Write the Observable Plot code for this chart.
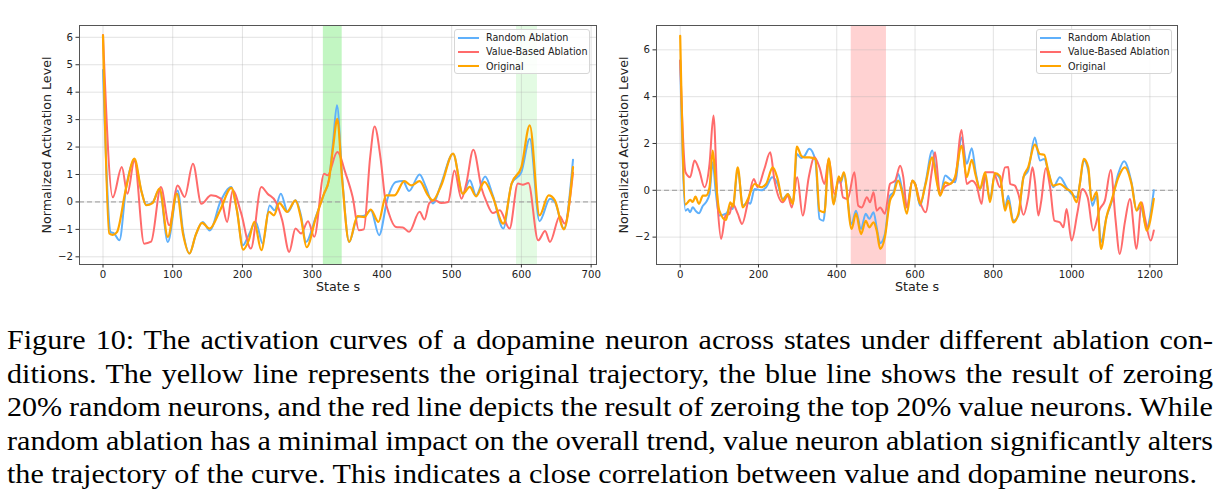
<!DOCTYPE html>
<html>
<head>
<meta charset="utf-8">
<script src="https://cdn.jsdelivr.net/npm/d3@7"></script>
<script src="https://cdn.jsdelivr.net/npm/@observablehq/plot@0.6"></script>
<style>
  html, body { margin: 0; padding: 0; background: #fff; }
  #page { position: relative; width: 1223px; height: 500px; overflow: hidden; }
  .panel { position: absolute; top: 0; }
  .legend {
    position: absolute; box-sizing: border-box; background: rgba(255,255,255,0.85);
    border: 1px solid #d6d6d6; border-radius: 3px;
    font-family: "DejaVu Sans", sans-serif; font-size: 9.6px; color: #222;
  }
  .legend .row { position: absolute; left: 0; height: 14px; display: flex; align-items: center; }
  .legend .swatch { width: 21px; height: 2px; margin-left: 3px; margin-right: 7px; }
  .caption {
    position: absolute; left: 7px; transform-origin: 0 0;
    font-family: "Liberation Serif", "Times New Roman", serif; font-size: 26.5px; color: #000;
  }
  .caption .line { height: 33.5px; line-height: 33.5px; white-space: nowrap; }
</style>
</head>
<body>
<div id="page"></div>
<script>
// Series order, display names and colours
const seriesNames = ["Random Ablation", "Value-Based Ablation", "Original"];
const seriesColors = ["#5fb0fb", "#ff6b6b", "#ffa500"];
const seriesWidths = [2, 2, 2.2];

// Left panel: [state, normalized activation]
const leftRandom = [
  [0, 4.81], [11, -1.1], [16, -1.15], [23.5, -1.4], [33, 0.5], [45, 1.5], [55, 0.4], [62, -0.1],
  [71, -0.02], [81, 0.45], [93, -1.46], [107, 0.42], [115, -1.1], [124, -1.88], [133, -1.2],
  [143, -0.73], [153, -1.04], [169, 0.05], [184, 0.54], [192, -0.3], [200.5, -1.58], [209, -1.2],
  [219, -0.73], [229, -1.52], [239, -0.13], [246, -0.3], [255, 0.3], [265, -0.37], [276, 0.06],
  [284, -0.5], [291, -1.46], [305, -0.55], [317, 0.3], [324, 0.8], [330, 2.2], [335.5, 3.52],
  [343, 0.9], [353, -1.46], [365, -0.55], [375, -0.5], [384, -0.3], [396, -1.21], [408, 0.12],
  [420, 0.73], [430, 0.76], [439, 0.4], [454, 1.0], [463, 0.55], [473, -0.06], [485, 0.67],
  [502, 1.76], [516, 0.3], [526, 0.79], [535, 0.24], [548, 0.93], [559, 0.24], [574, -0.97],
  [586, 0.67], [600, 1.09], [612, 2.3], [626, -0.7], [641, 0.12], [648, 0.0], [661, -0.97], [674, 1.54]
];
const leftValueBased = [
  [0, 6.08], [14, 0.17], [27, 1.27], [35, 0.3], [45, 1.5], [59, -1.52], [69, -1.45], [83, 0.54],
  [95, -0.85], [107, 0.6], [117, 0.18], [129, 1.39], [141, -0.07], [155, 0.24], [169, 0.12],
  [178, -0.73], [186, 0.42], [198, -0.4], [212, -1.7], [227, 0.54], [236, 0.3], [248, 0.0],
  [257, -0.67], [267, -1.82], [276, -0.97], [284, -1.15], [294, -0.7], [303, -1.27], [317, 1.03],
  [322, 0.97], [336, 1.82], [348, 1.03], [358, 0.18], [367, -1.03], [374, -1.0], [383, 1.6],
  [389.5, 2.75], [398, 1.6], [405, 0.05], [410, -0.42], [420, -0.91], [430, -0.93], [439, -1.09],
  [454, -0.36], [461, -0.64], [468, -0.04], [476, 0.06], [485, -0.04], [495, 0], [504, 1.15],
  [514, 0.12], [521, 0.67], [531, 1.9], [543, 0.49], [550, 0], [559, -0.4], [569, -0.3],
  [583, -0.97], [595, 0.67], [602, 0.63], [610, 0.69], [624, -1.4], [634, -1.06], [641, -1.46],
  [655, -0.52], [662, -0.79], [674, 1.06]
];
const leftOriginal = [
  [0, 6.07], [9, -1.15], [14, -1.2], [20, -1.1], [33, 0.5], [45, 1.58], [55, 0.4], [62, -0.12],
  [71, -0.04], [81, 0.49], [93, -1.27], [106, 0.3], [115, -1.2], [124, -1.88], [133, -1.2],
  [142, -0.76], [153, -0.97], [168, -0.3], [184, 0.51], [192, -0.3], [201, -1.74], [209, -1.4],
  [217, -0.73], [227, -1.76], [238, -0.36], [245, -0.49], [253, -0.04], [264, -0.36], [276, 0.06],
  [284, -0.6], [292, -1.65], [305, -0.6], [317, 0.3], [324, 0.8], [330, 2.0], [336, 3.03],
  [343, 0.8], [353, -1.46], [365, -0.52], [375, -0.55], [384, -0.28], [395, -0.73], [406, 0.24],
  [418, 0.24], [432, 0.76], [442, 0.6], [454, 0.76], [466, 0.24], [473, 0.06], [485, 0.6],
  [502, 1.76], [516, 0.3], [526, 0.55], [535, 0.2], [547, 0.73], [559, 0.18], [574, -0.79],
  [586, 0.67], [600, 1.27], [612, 2.79], [626, -0.49], [639, 0.24], [648, 0.06], [661, -1.0], [674, 1.27]
];

// Right panel: [state, normalized activation]
const rightRandom = [
  [0, 5.54], [13.6, -0.87], [19.6, -0.8], [25.5, -0.94], [32, -0.72], [39, -0.87], [48, -0.98],
  [58, -0.66], [66, -0.51], [75, -0.16], [83, 1.2], [91, -0.1], [100, -1.08], [117, -1.0],
  [128, -0.73], [134.5, -0.8], [147, 0.91], [160, -0.66], [173, -0.51], [179, -0.58], [190, 0.06],
  [207, 0.0], [219.5, 0.13], [235, 0.56], [249, 0.27], [262, -0.37], [275, -0.16], [288, -0.55],
  [298, 1.55], [309, 1.38], [317, 1.45], [330, 1.77], [345.5, 1.27], [356, -1.22], [366, -1.3],
  [379.5, 1.27], [392, -0.58], [405, 0.5], [410, 0.3], [418, 0.7], [438, -1.44], [449, -0.87],
  [462, -1.65], [474, -1.0], [483, -1.22], [494, -0.94], [502, -1.58], [511, -2.26], [523, -1.87],
  [536, -0.23], [545, -0.08], [557, 0.7], [566, 0.13], [579, -0.73], [593, 0.41], [600, 0.3],
  [613, -0.66], [627, 0.34], [644, 1.7], [655, 0.56], [664, -0.23], [677, 0.63], [689, 0.48],
  [702, 0.34], [719, 2.26], [732, 1.13], [745, 1.8], [755, 0.77], [766, 0.06], [779, 0.56],
  [791.5, -0.37], [804, 0.7], [817, 0.5], [830, -0.73], [838, -0.23], [851, -1.3], [864, -1.08],
  [877, 0.56], [889, 0.84], [906, 2.26], [919, 1.27], [930, 1.34], [940, 0.84], [953, 0.13],
  [970, 0.56], [987, 0.13], [1000, -0.16], [1013, -0.3], [1021, 0.27], [1031, 1.27], [1042.5, 0.84],
  [1053, -0.66], [1064, -0.23], [1075, -2.22], [1089, -1.15], [1102, -0.51], [1119, 0.7],
  [1134, 1.24], [1153, 0.34], [1166, -0.84], [1177, -0.73], [1191.5, -1.58], [1210, 0.0]
];
const rightValueBased = [
  [0, 5.54], [13.6, 0.77], [25.5, 0.56], [36.6, 1.27], [49, 0.84], [62, 0.13], [75, 1.13],
  [85, 3.19], [96, -0.73], [104.6, -2.08], [116, -1.08], [126, -1.0], [134, -0.58], [147, -1.0],
  [158, -1.44], [173, -0.51], [188, 0.48], [198, 0.13], [215, 0.91], [230, 1.62], [241, 0.41],
  [262, -0.51], [275, -0.23], [285, -0.73], [299, 0.56], [313, -1.08], [328.5, 0.56], [343, 1.41],
  [356, 0.98], [368.5, 0.27], [379.5, 1.34], [394, -0.16], [407, 0.56], [416, -0.3], [428, -0.37],
  [445, 0.77], [455, -0.66], [464, -0.73], [477, -0.3], [485, -0.51], [494, -0.08], [502, -0.87],
  [511, -0.73], [523, -1.0], [536, 0.27], [549, 0.41], [562, 1.05], [570, 0.56], [579, -0.73],
  [593, 0.41], [600, 0.27], [613, -0.51], [627, -0.94], [642.5, 0.77], [651, 1.62], [664, -0.16],
  [675, 0.13], [689, 0.27], [702, 0.48], [719, 2.58], [732, 0.27], [745, 0.41], [757, 0.2],
  [770, -0.58], [780, 0.77], [800, 0.77], [817, 0.13], [830, 0.98], [838, 1.0], [843, 0.27],
  [855, 0.2], [864, -0.16], [877, -1.05], [889, -0.3], [900, 0.98], [906, 0.41], [915, -1.08],
  [922, -0.5], [934, 0.94], [945, 0.13], [956, -1.3], [970, -1.37], [979, -1.58], [987, -0.8],
  [1000, -2.15], [1015, -0.94], [1027, 0.06], [1041, -0.3], [1055, -1.72], [1072, -0.8],
  [1085, -0.44], [1100, 0.87], [1112, -1.22], [1123, -2.72], [1136, -1.37], [1149, -0.37],
  [1166, -2.5], [1179, -0.51], [1187, -1.15], [1202, -2.15], [1210, -1.72]
];
const rightOriginal = [
  [0, 6.6], [13.6, -0.61], [19.6, -0.51], [25.5, -0.41], [32, -0.5], [39, -0.27], [48, -0.58],
  [58, -0.23], [66, -0.23], [75, 0.13], [83, 1.7], [90, 0.56], [100, -0.87], [117, -1.27],
  [128, -0.51], [134.5, -0.7], [147, 0.98], [160, -0.73], [173, -0.37], [190, 0.27], [207, 0.13],
  [219.5, 0.27], [236.6, 0.98], [249, 0.48], [262, -0.44], [275, -0.16], [288, -0.58], [298, 1.87],
  [309, 1.48], [317, 1.41], [330, 1.41], [345.5, 1.34], [356, -0.87], [368.5, -0.94], [379.5, 1.37],
  [392, -0.6], [405, 0.6], [410, 0.4], [418, 0.77], [438, -1.65], [449, -1.0], [462, -1.87],
  [474, -1.3], [483, -1.58], [494, -1.37], [502, -1.72], [511, -2.5], [523, -2.0], [536, -0.44],
  [545, -0.16], [557, 0.41], [566, 0], [579, -1.0], [593, 0.41], [600, 0.27], [613, -0.58],
  [627, 0.27], [644, 1.41], [655, 0.41], [664, -0.23], [677, 0.34], [689, 0.27], [702, 0.56],
  [719, 1.9], [732, 0.56], [745, 1.3], [755, 0.63], [766, 0.06], [779, 0.77], [791.5, -0.51],
  [804, 0.73], [817, 0.6], [830, -0.87], [838, -0.44], [851, -1.37], [864, -1.0], [877, 0.56],
  [889, 0.98], [906, 1.95], [919, 1.55], [930, 1.52], [940, 0.84], [953, 0.2], [970, 0.27],
  [987, 0.06], [1000, -0.08], [1013, -0.51], [1021, 0.27], [1031, 1.34], [1042.5, 0.98],
  [1051, -0.44], [1064, -0.08], [1075, -2.5], [1089, -1.15], [1102, -0.44], [1119, 0.53],
  [1136, 0.98], [1153, 0.27], [1166, -0.87], [1177, -0.51], [1191.5, -1.72], [1210, -0.37]
];

// Highlighted state ranges
const leftBands = [
  {x1: 316, x2: 343, fill: "#90ee90", opacity: 0.55},
  {x1: 593, x2: 623, fill: "#90ee90", opacity: 0.25}
];
const rightBands = [
  {x1: 437, x2: 527, fill: "#ff6b6b", opacity: 0.3}
];

// Axis ticks
const leftXTicks = [0, 100, 200, 300, 400, 500, 600, 700];
const leftYTicks = [-2, -1, 0, 1, 2, 3, 4, 5, 6];
const rightXTicks = [0, 200, 400, 600, 800, 1000, 1200];
const rightYTicks = [-2, 0, 2, 4, 6];

const xLabel = "State s";
const yLabel = "Normalized Activation Level";

const captionLines = [
  "Figure 10: The activation curves of a dopamine neuron across states under different ablation con-",
  "ditions. The yellow line represents the original trajectory, the blue line shows the result of zeroing",
  "20% random neurons, and the red line depicts the result of zeroing the top 20% value neurons. While",
  "random ablation has a minimal impact on the overall trend, value neuron ablation significantly alters",
  "the trajectory of the curve. This indicates a close correlation between value and dopamine neurons."
];

function toRows(series) {
  return series.flatMap((pts, i) => pts.map(([s, v]) => ({state: s, level: v, series: seriesNames[i]})));
}

const tickFmt = d => String(d).replace("-", "\u2212");

function panel({series, bands, xDomain, yDomain, xTicks, yTicks, width, marginLeft, marginRight, yLabelDx}) {
  const rows = toRows(series);
  return Plot.plot({
    width, height: 300,
    marginTop: 25, marginBottom: 36, marginLeft, marginRight,
    style: {fontFamily: "DejaVu Sans, sans-serif", fontSize: "10.2px", color: "#222", background: "white"},
    x: {domain: xDomain},
    y: {domain: yDomain},
    marks: [
      Plot.rect(bands, {x1: "x1", x2: "x2", fill: "fill", fillOpacity: "opacity"}),
      Plot.gridX(xTicks, {stroke: "#b0b0b0", strokeOpacity: 0.35}),
      Plot.gridY(yTicks, {stroke: "#b0b0b0", strokeOpacity: 0.35}),
      Plot.ruleY([0], {stroke: "#999", strokeDasharray: "5,3", strokeWidth: 1}),
      ...seriesNames.map((name, i) => Plot.line(rows.filter(d => d.series === name), {
        x: "state", y: "level", stroke: seriesColors[i], strokeWidth: seriesWidths[i], curve: "monotone-x"
      })),
      Plot.frame({stroke: "#555", strokeWidth: 1}),
      Plot.axisX(xTicks, {tickSize: 3.5, tickPadding: 3, label: null, stroke: "#333", tickFormat: tickFmt}),
      Plot.axisY(yTicks, {tickSize: 3.5, tickPadding: 3, label: null, stroke: "#333", tickFormat: tickFmt}),
      Plot.text([xLabel], {frameAnchor: "bottom", dy: 26, fontSize: 12.7, fill: "#222"}),
      Plot.text([yLabel], {frameAnchor: "left", dx: yLabelDx, rotate: -90, textAnchor: "middle", fontSize: 12.7, fill: "#222"})
    ]
  });
}

const page = document.getElementById("page");

function place(el, left) {
  const wrap = document.createElement("div");
  wrap.className = "panel";
  wrap.style.left = left + "px";
  wrap.appendChild(el);
  page.appendChild(wrap);
}

place(panel({
  series: [leftRandom, leftValueBased, leftOriginal], bands: leftBands,
  xDomain: [-33.7, 707.7], yDomain: [-2.28, 6.43], xTicks: leftXTicks, yTicks: leftYTicks,
  width: 611, marginLeft: 79, marginRight: 15, yLabelDx: -33
}), 0);

place(panel({
  series: [rightRandom, rightValueBased, rightOriginal], bands: rightBands,
  xDomain: [-60.5, 1270.5], yDomain: [-3.17, 7.04], xTicks: rightXTicks, yTicks: rightYTicks,
  width: 612, marginLeft: 45, marginRight: 46, yLabelDx: -33
}), 611);

function legend(left) {
  const box = document.createElement("div");
  box.className = "legend";
  Object.assign(box.style, {left: left + "px", top: "29px", width: "136px", height: "45px"});
  seriesNames.forEach((name, i) => {
    const row = document.createElement("div");
    row.className = "row";
    row.style.top = (0.5 + i * 14.3) + "px";
    const sw = document.createElement("span");
    sw.className = "swatch";
    sw.style.background = seriesColors[i];
    const tx = document.createElement("span");
    tx.textContent = name;
    row.append(sw, tx);
    box.appendChild(row);
  });
  page.appendChild(box);
}
legend(454);
legend(1036);

// Caption: each line is laid out on its own, the first four justified
// to the full column width by adjusting their word spacing.
const cap = document.createElement("div");
cap.className = "caption";
cap.style.top = "324px";
page.appendChild(cap);
const spans = captionLines.map(t => {
  const line = document.createElement("div");
  line.className = "line";
  const span = document.createElement("span");
  span.textContent = t;
  line.appendChild(span);
  cap.appendChild(line);
  return span;
});
const widths = spans.map(s => s.getBoundingClientRect().width);
const stretch = 1190 / widths[widths.length - 1];
const column = 1206 / stretch;
spans.forEach((s, i) => {
  if (i === spans.length - 1) return;
  const gaps = (captionLines[i].match(/ /g) || []).length;
  s.style.wordSpacing = ((column - widths[i]) / gaps) + "px";
});
cap.style.transform = `scaleX(${stretch})`;
</script>
</body>
</html>
